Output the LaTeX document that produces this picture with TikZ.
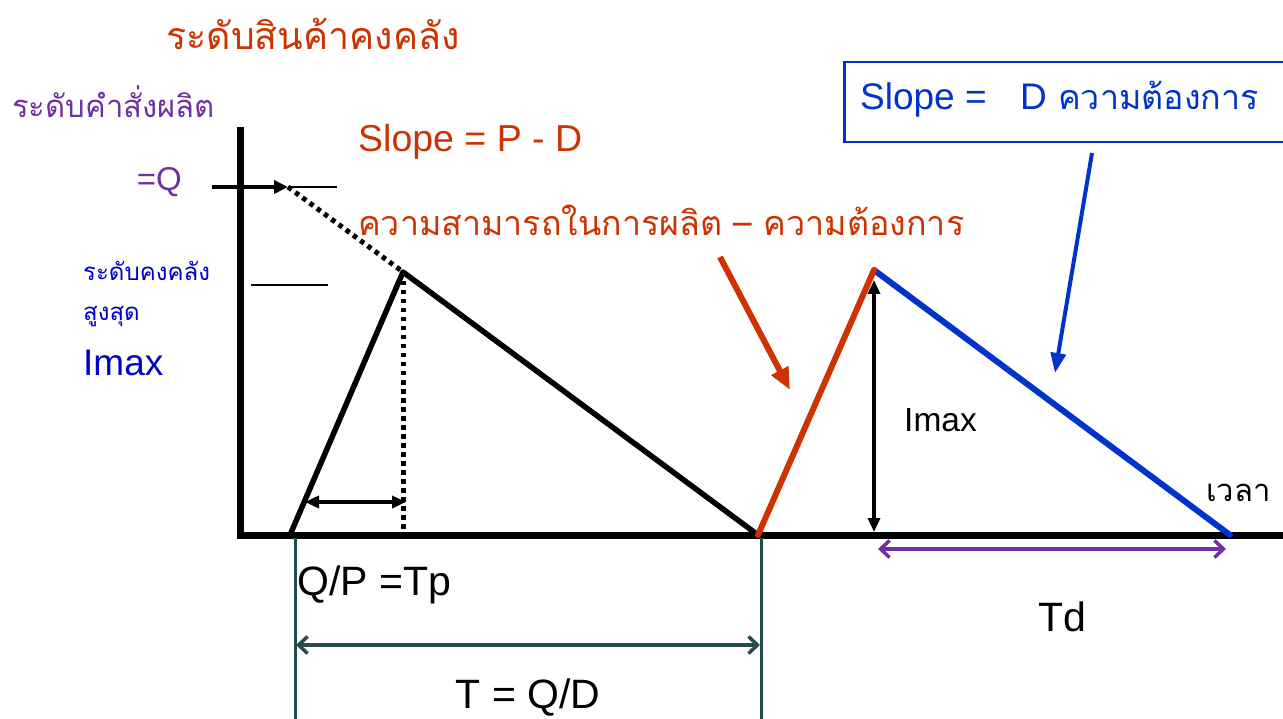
\documentclass[tikz,border=0pt]{standalone}
\usepackage{fontspec}
\setmainfont{Liberation Sans}
\newfontfamily\thaifont[Script=Thai]{Loma}
\usetikzlibrary{arrows.meta}
\definecolor{rust}{RGB}{204,51,0}
\definecolor{grape}{RGB}{112,48,160}
\definecolor{navy}{RGB}{0,0,204}
\definecolor{royal}{RGB}{0,51,204}
\definecolor{slate}{RGB}{40,75,80}

\begin{document}
\begin{tikzpicture}[
  x=1pt, y=-1pt,
  axis/.style={line width=7pt},
  saw/.style={line width=5.5pt, line cap=round},
  thin/.style={line width=2.5pt},
  dots/.style={line width=5pt, dash pattern=on 4.5pt off 4.5pt},
  dim/.style={line width=3.5pt, {Triangle[length=14pt,width=12pt]}-{Triangle[length=14pt,width=12pt]}},
  span/.style={line width=3.5pt, {Straight Barb[length=9pt,width=17pt]}-{Straight Barb[length=9pt,width=17pt]}},
  point/.style={line width=6pt, -{Triangle[length=22pt,width=18pt]}},
  lbl/.style={inner sep=0pt, font=\fontsize{#1}{#1}\selectfont},
  th/.style={inner sep=0pt, font=\thaifont\fontsize{#1}{#1}\selectfont},
]
\useasboundingbox (0,0) rectangle (1283,719);

% points
\coordinate (o) at (240,535);
\coordinate (ytop) at (240,127);
\coordinate (xend) at (1283,535);
\coordinate (qin) at (212,187);
\coordinate (qtip) at (288,187);
\coordinate (qbar) at (337,187);
\coordinate (mbarl) at (251,285);
\coordinate (mbarr) at (328,285);
\coordinate (start) at (290,535);
\coordinate (peak) at (403,272);
\coordinate (peakfoot) at (403,535);
\coordinate (zero) at (758,535);
\coordinate (peak2) at (874,270);
\coordinate (end2) at (1230,535);

% axes
\draw[axis] (ytop) -- (240,538.5);
\draw[axis] (236.5,535) -- (xend);

% first cycle
\draw[saw, line join=round] (start) -- (peak) -- (zero);
\draw[dots] (qtip) -- (peak);
\draw[dots] (peak) -- (peakfoot);
\draw[thin] (qtip) -- (qbar);
\draw[thin] (mbarl) -- (mbarr);
\draw[line width=4pt, -{Triangle[length=14pt,width=13pt]}] (qin) -- (qtip);
\coordinate (tpl) at (305,502);
\coordinate (tpr) at (406,502);
\draw[dim] (tpl) -- (tpr);

% second cycle
\draw[saw, royal, line width=6pt] (peak2) -- (end2);
\draw[saw, rust, line width=6pt] (zero) -- (peak2);
\coordinate (imt) at (874,280);
\coordinate (imb) at (874,532);
\draw[dim] (imt) -- (imb);
\coordinate (tdl) at (878,549);
\coordinate (tdr) at (1226,549);
\draw[span, grape] (tdl) -- (tdr);

% time spans
\coordinate (t0a) at (295,538);
\coordinate (t0b) at (295,719);
\coordinate (t1a) at (761,538);
\coordinate (t1b) at (761,719);
\draw[line width=3pt, slate] (t0a) -- (t0b);
\draw[line width=3pt, slate] (t1a) -- (t1b);
\coordinate (tl) at (296,645);
\coordinate (tr) at (760,645);
\draw[span, slate] (tl) -- (tr);

% labels
\node[th=37.5, rust] (title) at (313,34) {ระดับสินค้าคงคลัง};
\node[th=31, grape, anchor=west] (order) at (12,102) {ระดับคำสั่งผลิต};
\node[lbl=33, grape, anchor=east] (eqq) at (182,182) {=Q};
\node[th=24, navy, anchor=west] (maxlvl) at (83,271) {ระดับคงคลัง};
\node[th=24, navy, anchor=west] (highest) at (83,317) {สูงสุด};
\node[lbl=37, navy, anchor=west] (imaxl) at (83,363) {Imax};
\node[lbl=37.5, rust, anchor=west] (slopep) at (358,142) {Slope = P - D};
\node[th=34, rust, anchor=west] (capdem) at (358,220) {ความสามารถในการผลิต – ความต้องการ};
\node[lbl=33.5, anchor=west] (imax) at (904,420) {Imax};
\node[th=31, anchor=west] (time) at (1206,493) {เวลา};
\node[lbl=41, anchor=west] (tp) at (297,585) {Q/P =Tp};
\node[lbl=41] (tq) at (528,698) {T = Q/D};
\node[lbl=41] (td) at (1062,617) {Td};

% slope D box
\node[draw=royal, line width=2.5pt, anchor=north west, minimum width=460pt, minimum height=80pt, inner sep=0pt] (box) at (843,61) {};
\node[lbl=37, royal, anchor=base west] (sloped) at (860,110) {Slope =};
\node[lbl=37, royal, anchor=base west] (dd) at (1020,110) {D};
\node[th=34, royal, anchor=base west] (demand) at (1058,110) {ความต้องการ};

% pointers
\coordinate (ra) at (720,257);
\coordinate (rb) at (790,390);
\draw[point, rust] (ra) -- (rb);
\coordinate (ba) at (1092,153);
\coordinate (bb) at (1055,373);
\draw[point, royal, line width=4pt, -{Triangle[length=20pt,width=15pt]}] (ba) -- (bb);
\end{tikzpicture}
\end{document}
